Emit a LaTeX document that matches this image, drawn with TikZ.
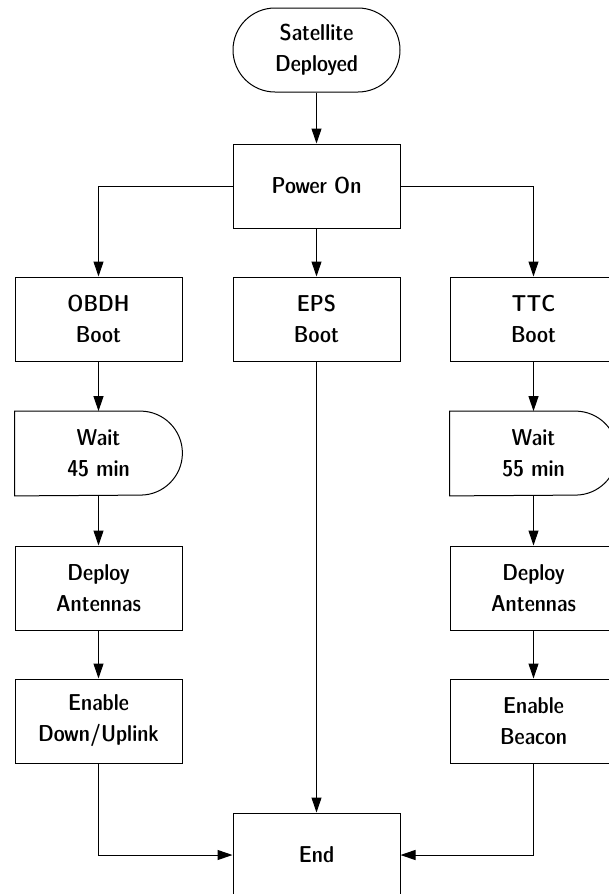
\documentclass[tikz,border=0pt]{standalone}
\usetikzlibrary{arrows.meta,calc}
\begin{document}
\begin{tikzpicture}[x=0.5pt,y=-0.5pt,
  every node/.style={font=\fontsize{11.5}{15.5}\selectfont\sffamily\fontseries{sbc}\selectfont, align=center, inner sep=0pt},
  box/.style={draw, line width=0.5pt, minimum width=83.5pt, minimum height=42pt},
  term/.style={box, rounded corners=21pt},
  waitbox/.style={minimum width=83.5pt, minimum height=42pt},
  flow/.style={line width=0.5pt, -{Triangle[length=7.5pt,width=5pt]}},
  link/.style={line width=0.5pt}
]
\useasboundingbox (0,0) rectangle (609,894);

% column centres: 98.5, 316.5, 533.5
\node[term] (start) at (316.5,50) {Satellite\\Deployed};
\node[box] (power) at (316.5,186) {Power On};

\node[box] (obdh) at (98.5,319) {OBDH\\Boot};
\node[box] (eps)  at (316.5,319) {EPS\\Boot};
\node[box] (ttc)  at (533.5,319) {TTC\\Boot};

\node[waitbox] (wait1) at (98.5,453.5) {Wait\\45 min};
\node[waitbox] (wait2) at (533.5,453.5) {Wait\\55 min};

\node[box] (dep1) at (98.5,588) {Deploy\\Antennas};
\node[box] (dep2) at (533.5,588) {Deploy\\Antennas};

\node[box] (en1) at (98.5,721) {Enable\\Down/Uplink};
\node[box] (en2) at (533.5,721) {Enable\\Beacon};

\node[box] (end) at (316.5,855) {End};

% delay-shaped outlines for the wait steps
\foreach \w in {wait1,wait2}{
  \draw[link] (\w.south west) -- (\w.north west) -- ($(\w.north east)+(-21pt,0)$)
    arc[start angle=90,end angle=-90,radius=21pt] -- cycle;
}

% connectors
\draw[flow] (start) -- (power);
\draw[flow] (power.west) -| (obdh.north);
\draw[flow] (power) -- (eps);
\draw[flow] (power.east) -| (ttc.north);

\draw[flow] (obdh) -- (wait1);
\draw[flow] (wait1) -- (dep1);
\draw[flow] (dep1) -- (en1);
\draw[flow] (en1.south) |- (end.west);

\draw[flow] (ttc) -- (wait2);
\draw[flow] (wait2) -- (dep2);
\draw[flow] (dep2) -- (en2);
\draw[flow] (en2.south) |- (end.east);

\draw[flow] (eps) -- (end);
\end{tikzpicture}
\end{document}
